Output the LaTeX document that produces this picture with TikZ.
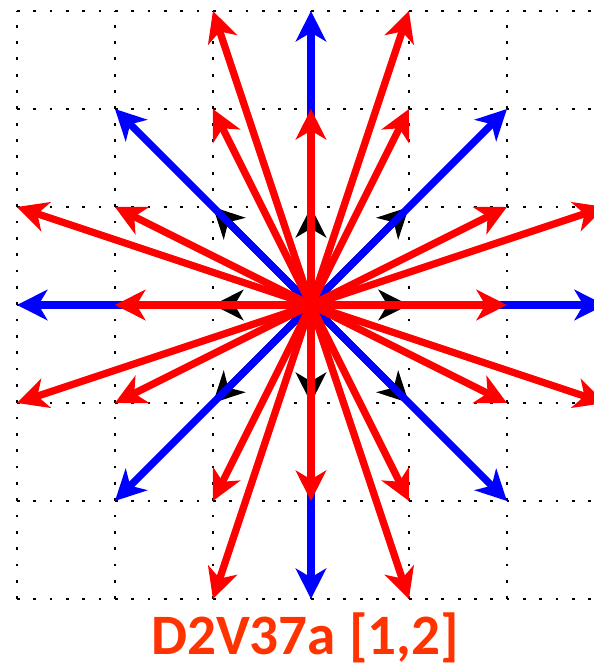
\documentclass[tikz,border=0pt]{standalone}
\usepackage{fontspec}
\setmainfont{Carlito}
\usetikzlibrary{arrows.meta}
\definecolor{titlered}{RGB}{255,51,0}

\begin{document}
\begin{tikzpicture}[vec/.style={line width=2.1pt, -{Stealth[length=3.1mm, width=3.1mm, inset=0.9mm]}}]
  \useasboundingbox (-3.173,-3.694) rectangle (2.888,3.112);

  % Dotted grid
  \draw[line width=0.8pt, dash pattern=on 0.8pt off 3.94pt] (-3,-3) grid (3,3);

  % Origin
  \coordinate (O) at (0,0);

  % Black vectors
  \foreach \x/\y in {1/0,0/1,-1/0,0/-1,1/1,-1/1,-1/-1,1/-1}
    \draw[vec, black] (O) -- (\x,\y);

  % Blue vectors
  \foreach \x/\y in {3/0,-3/0,0/3,0/-3,2/2,-2/2,-2/-2,2/-2}
    \draw[vec, blue] (O) -- (\x,\y);

  % Red vectors
  \foreach \x/\y in {2/0,-2/0,0/2,0/-2,1/2,-1/2,1/-2,-1/-2,2/1,-2/1,2/-1,-2/-1,
                     3/1,-3/1,3/-1,-3/-1,1/3,-1/3,1/-3,-1/-3}
    \draw[vec, red] (O) -- (\x,\y);

  % Label
  \node[font=\bfseries\fontsize{16.6}{20}\selectfont, text=titlered, anchor=base, inner sep=0pt]
    (title) at (-0.06,-3.565) {D2V37a [1,2]};
\end{tikzpicture}
\end{document}
